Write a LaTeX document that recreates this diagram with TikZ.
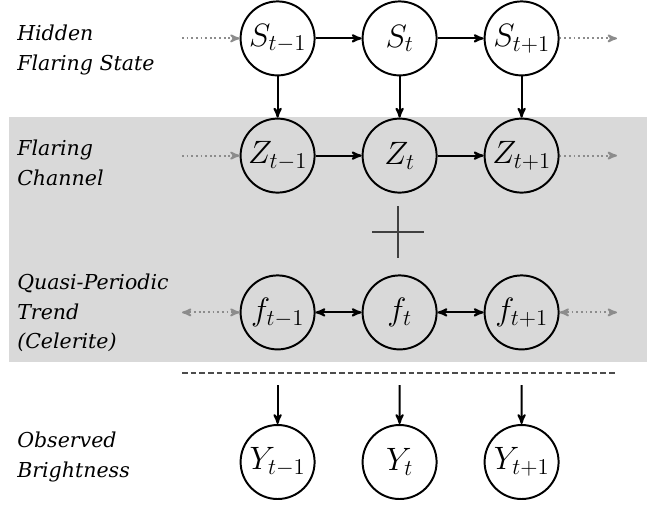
\documentclass[tikz,border=0pt]{standalone}
\usepackage{fix-cm}
\usepackage{amsmath}
\usepackage{fontspec}
\setmainfont{DejaVu Serif}
\usetikzlibrary{positioning, arrows}
\tikzset{
  >=stealth',
  node distance=3.05cm,
  var/.style={circle, draw, line width=1.4pt, minimum size=1.85cm, inner sep=0pt,
    font=\fontsize{23}{27}\selectfont},
  link/.style={->, line width=1.4pt},
  loose/.style={->, dotted, line width=1.3pt, black!45},
  layer/.style={anchor=west, align=left, inner sep=0pt,
    font=\itshape\fontsize{14.6}{21.3}\selectfont},
}

\begin{document}
\begin{tikzpicture}
  \useasboundingbox (0,0) rectangle (16.425,-12.6);
  % shaded band
  \fill[black!15] (0.225,-2.925) rectangle (16.175,-9.05);

  % layer names
  \node[layer] (lh) at (0.425,-1.24) {Hidden\\Flaring State};
  \node[layer] (lz) at (0.425,-4.08) {Flaring\\Channel};
  \node[layer] (lf) at (0.425,-7.82) {Quasi-Periodic\\Trend\\(Celerite)};
  \node[layer] (ly) at (0.425,-11.43) {Observed\\Brightness};

  % states
  \node[var] (s1) at (6.94,-0.96) {$S_{t-1}$};
  \node[var, right of=s1] (s2) {$S_t$};
  \node[var, right of=s2] (s3) {$S_{t+1}$};

  \node[var] (z1) at (6.94,-3.89) {$Z_{t-1}$};
  \node[var, right of=z1] (z2) {$Z_t$};
  \node[var, right of=z2] (z3) {$Z_{t+1}$};

  \node[var] (f1) at (6.94,-7.81) {$f_{t-1}$};
  \node[var, right of=f1] (f2) {$f_t$};
  \node[var, right of=f2] (f3) {$f_{t+1}$};

  \node[var] (y1) at (6.94,-11.55) {$Y_{t-1}$};
  \node[var, right of=y1] (y2) {$Y_t$};
  \node[var, right of=y2] (y3) {$Y_{t+1}$};

  % loose ends
  \coordinate (s0) at (4.55,-0.96);
  \coordinate (s4) at (15.425,-0.96);
  \coordinate (z0) at (4.55,-3.89);
  \coordinate (z4) at (15.425,-3.89);
  \coordinate (f0) at (4.55,-7.81);
  \coordinate (f4) at (15.425,-7.81);
  \coordinate (o1) at (6.94,-9.625);
  \coordinate (o2) at (9.99,-9.625);
  \coordinate (o3) at (13.04,-9.625);
  \coordinate (d1) at (4.55,-9.325);
  \coordinate (d2) at (15.425,-9.325);
  \coordinate (plus) at (9.95,-5.8);

  % transitions
  \draw[loose] (s0) -- (s1);
  \draw[loose] (s3) -- (s4);
  \draw[loose] (z0) -- (z1);
  \draw[loose] (z3) -- (z4);
  \draw[loose, <->] (f0) -- (f1);
  \draw[loose, <->] (f3) -- (f4);

  \draw[link] (s1) -- (s2);
  \draw[link] (s2) -- (s3);
  \draw[link] (z1) -- (z2);
  \draw[link] (z2) -- (z3);
  \draw[link, <->] (f1) -- (f2);
  \draw[link, <->] (f2) -- (f3);

  \draw[link] (s1) -- (z1);
  \draw[link] (s2) -- (z2);
  \draw[link] (s3) -- (z3);
  \draw[link] (o1) -- (y1);
  \draw[link] (o2) -- (y2);
  \draw[link] (o3) -- (y3);

  % sum and separator
  \draw[line width=2.1pt, black!75] (plus) ++(0,0.65) -- ++(0,-1.3)
    (plus) ++(-0.65,0) -- ++(1.3,0);
  \draw[black!70, line width=0.9pt, dash pattern=on 4pt off 2.2pt] (d1) -- (d2);
\end{tikzpicture}
\end{document}
